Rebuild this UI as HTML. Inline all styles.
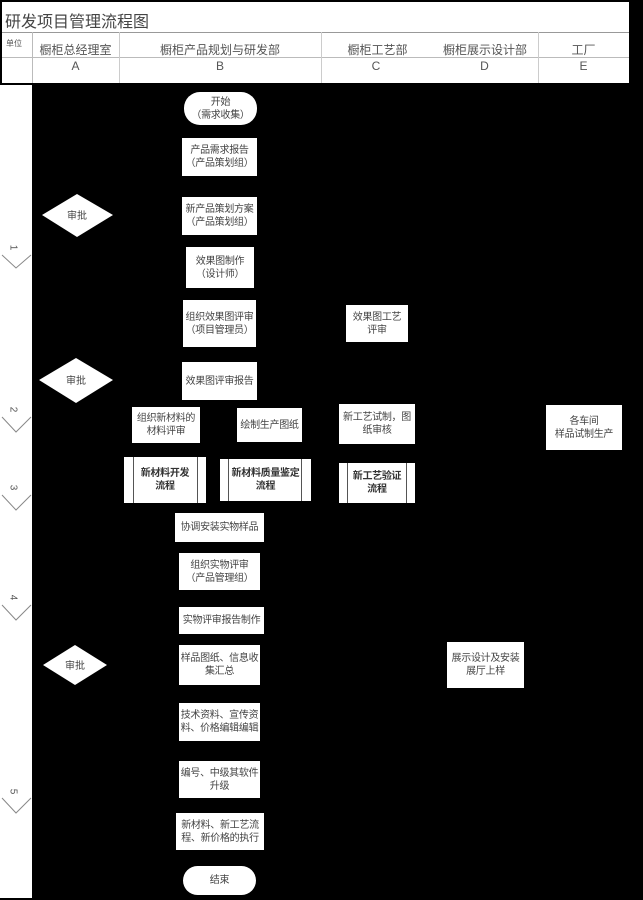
<!DOCTYPE html>
<html><head><meta charset="utf-8"><style>
body{margin:0;width:643px;height:900px;background:#000;position:relative;overflow:hidden;font-family:"Liberation Sans","Noto Sans CJK SC",sans-serif}
.a{position:absolute}
.b{position:absolute;background:#fff;color:#444;font-size:10px;line-height:13px;display:flex;align-items:center;justify-content:center;text-align:center;box-sizing:border-box;padding:0;white-space:nowrap;letter-spacing:-0.3px}
.p{border-radius:16px}
.h{color:#555;font-size:12px;position:absolute;text-align:center}
.m{position:absolute;left:10px;font-size:10px;color:#555;transform:rotate(90deg)}
</style></head><body>
<div class="a" style="left:2px;top:2px;width:627px;height:81px;background:#fff"></div>
<div class="a" style="left:2px;top:32px;width:627px;height:1px;background:#999"></div>
<div class="a" style="left:2px;top:57px;width:627px;height:1px;background:#bbb"></div>
<div class="a" style="left:32px;top:32px;width:1px;height:51px;background:#bbb"></div>
<div class="a" style="left:119px;top:32px;width:1px;height:51px;background:#ccc"></div>
<div class="a" style="left:321px;top:32px;width:1px;height:51px;background:#ccc"></div>
<div class="a" style="left:538px;top:32px;width:1px;height:51px;background:#ccc"></div>
<div class="a" style="left:5px;top:8px;font-size:16px;color:#444">研发项目管理流程图</div>
<div class="a" style="left:6px;top:38px;font-size:8px;color:#555">单位</div>
<div class="h" style="left:32px;width:87px;top:41px">橱柜总经理室</div>
<div class="h" style="left:119px;width:202px;top:41px">橱柜产品规划与研发部</div>
<div class="h" style="left:330px;width:95px;top:41px">橱柜工艺部</div>
<div class="h" style="left:430px;width:110px;top:41px">橱柜展示设计部</div>
<div class="h" style="left:538px;width:91px;top:41px">工厂</div>
<div class="h" style="left:32px;width:87px;top:59px">A</div>
<div class="h" style="left:119px;width:202px;top:59px">B</div>
<div class="h" style="left:321px;width:110px;top:59px">C</div>
<div class="h" style="left:431px;width:107px;top:59px">D</div>
<div class="h" style="left:538px;width:91px;top:59px">E</div>
<div class="a" style="left:0;top:85px;width:32px;height:813px;background:#fff"></div>
<svg class="a" style="left:0;top:0" width="40" height="900"><g stroke="#888" fill="none">
<path d="M2 255 L16 268 L31 255"/><path d="M2 417 L16 432 L31 417"/><path d="M2 495 L16 510 L31 495"/><path d="M2 605 L16 620 L31 605"/><path d="M2 798 L16 813 L31 798"/></g></svg>
<div class="m" style="top:242px">1</div><div class="m" style="top:404px">2</div><div class="m" style="top:482px">3</div><div class="m" style="top:592px">4</div><div class="m" style="top:786px">5</div>
<div class="b p" style="left:184px;top:92px;width:73px;height:33px">开始<br>（需求收集）</div>
<div class="b" style="left:182px;top:138px;width:75px;height:38px">产品需求报告<br>（产品策划组）</div>
<div class="b" style="left:182px;top:197px;width:75px;height:38px">新产品策划方案<br>（产品策划组）</div>
<div class="b" style="left:186px;top:247px;width:68px;height:41px">效果图制作<br>（设计师）</div>
<div class="b" style="left:183px;top:300px;width:73px;height:47px">组织效果图评审<br>（项目管理员）</div>
<div class="b" style="left:182px;top:362px;width:75px;height:38px">效果图评审报告</div>
<div class="b" style="left:132px;top:407px;width:68px;height:36px">组织新材料的<br>材料评审</div>
<div class="b" style="left:237px;top:408px;width:65px;height:34px">绘制生产图纸</div>
<div class="b" style="left:346px;top:305px;width:62px;height:37px">效果图工艺<br>评审</div>
<div class="b" style="left:339px;top:404px;width:76px;height:40px">新工艺试制，图<br>纸审核</div>
<div class="b" style="left:546px;top:405px;width:76px;height:45px">各车间<br>样品试制生产</div>
<div class="b" style="left:124px;top:457px;width:82px;height:46px;font-weight:bold;color:#333">新材料开发<br>流程<i class="a" style="left:9px;top:0;bottom:0;width:1px;background:#555"></i><i class="a" style="right:8px;top:0;bottom:0;width:1px;background:#555"></i></div>
<div class="b" style="left:220px;top:459px;width:91px;height:42px;font-weight:bold;color:#333">新材料质量鉴定<br>流程<i class="a" style="left:8px;top:0;bottom:0;width:1px;background:#555"></i><i class="a" style="right:9px;top:0;bottom:0;width:1px;background:#555"></i></div>
<div class="b" style="left:339px;top:463px;width:76px;height:40px;font-weight:bold;color:#333">新工艺验证<br>流程<i class="a" style="left:8px;top:0;bottom:0;width:1px;background:#555"></i><i class="a" style="right:8px;top:0;bottom:0;width:1px;background:#555"></i></div>
<div class="b" style="left:175px;top:513px;width:89px;height:29px">协调安装实物样品</div>
<div class="b" style="left:179px;top:553px;width:81px;height:37px">组织实物评审<br>（产品管理组）</div>
<div class="b" style="left:179px;top:607px;width:85px;height:27px">实物评审报告制作</div>
<div class="b" style="left:179px;top:645px;width:81px;height:40px">样品图纸、信息收<br>集汇总</div>
<div class="b" style="left:447px;top:642px;width:77px;height:46px">展示设计及安装<br>展厅上样</div>
<div class="b" style="left:179px;top:703px;width:81px;height:38px">技术资料、宣传资<br>料、价格编辑编辑</div>
<div class="b" style="left:179px;top:761px;width:81px;height:37px">编号、中级其软件<br>升级</div>
<div class="b" style="left:176px;top:813px;width:88px;height:37px">新材料、新工艺流<br>程、新价格的执行</div>
<div class="b p" style="left:183px;top:866px;width:73px;height:29px;border-radius:15px">结束</div>
<svg class="a" style="left:0;top:0" width="130" height="900">
<polygon points="42,215 77,194 113,215 77,237" fill="#fff"/>
<polygon points="39,380 76,358 113,380 76,403" fill="#fff"/>
<polygon points="43,665 75,645 107,665 75,685" fill="#fff"/>
<g font-size="10" fill="#444" text-anchor="middle" font-family="Liberation Sans,Noto Sans CJK SC,sans-serif">
<text x="77" y="219">审批</text><text x="76" y="384">审批</text><text x="75" y="669">审批</text></g></svg>
</body></html>
